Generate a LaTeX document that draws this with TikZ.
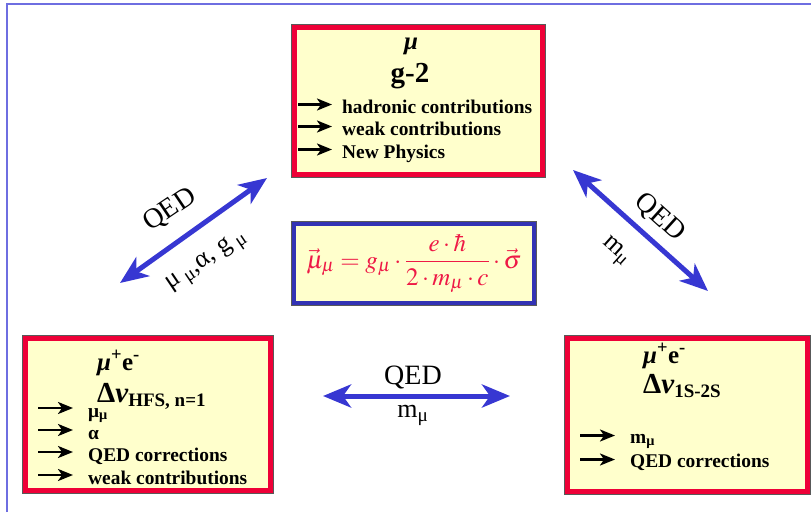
\documentclass[tikz,border=0pt]{standalone}
\usepackage{mathptmx}
\usepackage{fontspec}
\setmainfont{Liberation Serif}
\usepackage{xcolor}
\usetikzlibrary{arrows.meta}

\definecolor{boxred}{RGB}{238,0,55}
\definecolor{boxfill}{RGB}{255,255,204}
\definecolor{boxblue}{RGB}{50,50,180}
\definecolor{linkblue}{RGB}{55,55,210}
\definecolor{frameblue}{RGB}{110,110,225}
\definecolor{formred}{RGB}{238,25,70}

\newcommand{\lowtext}[1]{\textsubscript{\fontsize{19}{20}\selectfont #1}}

\begin{document}
\begin{tikzpicture}[x=1pt,y=-1pt,
        panel/.style={draw=boxred, line width=5pt, fill=boxfill, inner sep=0pt,
            preaction={draw=black!65, line width=7pt}},
        formbox/.style={draw=boxblue, line width=4pt, fill=boxfill, inner sep=0pt,
            preaction={draw=black!65, line width=6pt}, text=formred,
            font=\fontsize{25}{29}\selectfont},
        title/.style={font=\fontsize{25}{29}\selectfont\bfseries, inner sep=0pt, anchor=base west},
        bigtitle/.style={font=\fontsize{29}{33}\selectfont\bfseries, inner sep=0pt, anchor=base west},
        item/.style={font=\fontsize{19.4}{23}\selectfont\bfseries, inner sep=0pt, anchor=base west},
        bullet/.style={draw=black, line width=2.4pt, -{Stealth[length=15pt,width=12pt,inset=4pt]}},
        link/.style={draw=linkblue, line width=5pt,
            {Stealth[length=28pt,width=23pt,inset=8pt]}-{Stealth[length=28pt,width=23pt,inset=8pt]}},
        linklabel/.style={font=\fontsize{28}{30}\selectfont, inner sep=0pt}
    ]

    \useasboundingbox (0,0) rectangle (811,512);
    \draw[frameblue, line width=1.5pt] (7,512) -- (7,4) -- (811,4);

    % g-2 panel
    \node[panel, minimum width=248pt, minimum height=147pt] (gbox) at (418.5,101) {};
    \node[title, anchor=base] (gmu) at (411,49) {\itshape μ};
    \node[bigtitle, anchor=base] (gtwo) at (410,82) {g-2};
    \node[item] (hadr) at (342,113) {hadronic contributions};
    \node[item] (gweak) at (342,135) {weak contributions};
    \node[item] (newph) at (342,158) {New Physics};
    \foreach \n in {hadr,gweak,newph}
        \draw[bullet] ([xshift=-44pt,yshift=8.5pt]\n.base west) -- ([xshift=-10pt,yshift=8.5pt]\n.base west);

    % formula
    \node[formbox, minimum width=240pt, minimum height=79pt] (form) at (414,263.5)
        {$\displaystyle \vec{\mu}_{\mu} = g_{\mu}\cdot\frac{e\cdot\hbar}{2\cdot m_{\mu}\cdot c}\cdot\vec{\sigma}$};

    % muonium hfs panel
    \node[panel, minimum width=245pt, minimum height=152pt] (hfsbox) at (148,414.5) {};
    \node[title] (hfsmu) at (97,370) {{\itshape μ}\textsuperscript{+}e\textsuperscript{-}};
    \node[bigtitle] (hfsdnu) at (97,402) {Δ{\itshape ν}\lowtext{HFS, n=1}};
    \node[item] (hfsm) at (88,417) {μ\textsubscript{μ}};
    \node[item] (hfsa) at (88,439) {α};
    \node[item] (hfsq) at (88,461) {QED corrections};
    \node[item] (hfsw) at (88,484) {weak contributions};
    \foreach \n in {hfsm,hfsa,hfsq,hfsw}
        \draw[bullet] ([xshift=-50pt,yshift=9pt]\n.base west) -- ([xshift=-15pt,yshift=9pt]\n.base west);

    % muonium 1s-2s panel
    \node[panel, minimum width=240pt, minimum height=153pt] (sbox) at (687.5,415) {};
    \node[title] (smu) at (643,363) {{\itshape μ}\textsuperscript{+}e\textsuperscript{-}};
    \node[bigtitle] (sdnu) at (643,393) {Δ{\itshape ν}\lowtext{1S-2S}};
    \node[item] (smm) at (630,443) {m\textsubscript{μ}};
    \node[item] (sq) at (630,467) {QED corrections};
    \foreach \n in {smm,sq}
        \draw[bullet] ([xshift=-50pt,yshift=7.5pt]\n.base west) -- ([xshift=-15pt,yshift=7.5pt]\n.base west);

    % QED links
    \coordinate (lA) at (120,283);
    \coordinate (lB) at (267,178);
    \coordinate (rA) at (573,170);
    \coordinate (rB) at (708,291);
    \coordinate (bA) at (323,396);
    \coordinate (bB) at (510,396);
    \draw[link] (lA) -- (lB);
    \draw[link] (rA) -- (rB);
    \draw[link] (bA) -- (bB);

    \node[linklabel, rotate=34] (lqed) at (170,210) {QED};
    \node[linklabel, rotate=34, font=\fontsize{26}{28}\selectfont] (lpar) at (207,262) {μ\textsubscript{ μ},α, g\textsubscript{ μ}};
    \node[linklabel, rotate=-42] (rqed) at (660,218) {QED};
    \node[linklabel, rotate=-42, font=\fontsize{26}{28}\selectfont] (rpar) at (615,252) {m\textsubscript{μ}};
    \node[linklabel] (bqed) at (413,377) {QED};
    \node[linklabel, font=\fontsize{26}{28}\selectfont] (bpar) at (413,415) {m\textsubscript{μ}};

\end{tikzpicture}
\end{document}
